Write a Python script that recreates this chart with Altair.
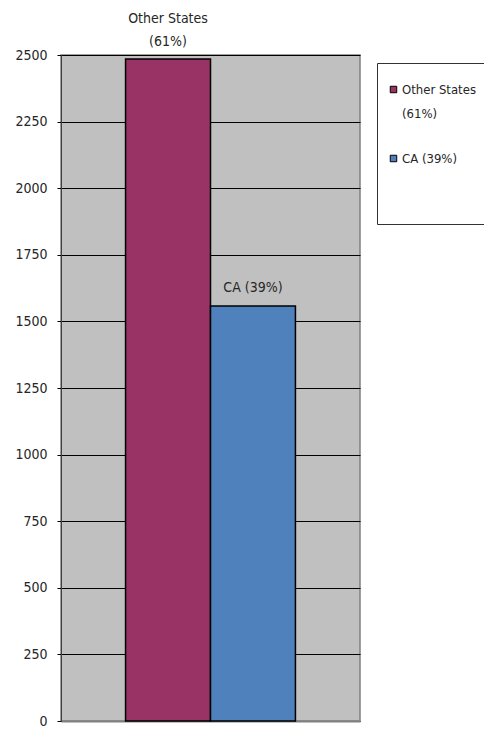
import altair as alt
import pandas as pd

categories = ["Other States", "CA"]
values = [2485, 1558]
legend_labels = ["Other States (61%)", "CA (39%)"]
bar_labels = ["Other States\n(61%)", "CA (39%)"]
colors = ["#993366", "#4F81BD"]
y_ticks = list(range(0, 2501, 250))

df = pd.DataFrame({
    "category": categories,
    "value": values,
    "legend": legend_labels,
    "label": bar_labels,
})

FONT = "DejaVu Sans Condensed, Liberation Sans, sans-serif"
TXT = "#262626"
FS = 14

x = alt.X(
    "category:N",
    sort=categories,
    scale=alt.Scale(paddingInner=0, paddingOuter=0.76),
    axis=alt.Axis(title=None, labels=False, ticks=False, domainColor="#808080", domainWidth=2),
)
y = alt.Y(
    "value:Q",
    scale=alt.Scale(domain=[0, 2500], nice=False),
    axis=alt.Axis(
        title=None,
        values=y_ticks,
        format="d",
        labelFont=FONT,
        labelFontSize=FS,
        labelColor=TXT,
        labelPadding=10,
        tickSize=4,
        tickColor="#000",
        domainColor="#404040",
        gridColor="#000",
        gridWidth=1,
        gridOpacity=1,
    ),
)

bars = alt.Chart(df).mark_bar(stroke="black", strokeWidth=1.5).encode(
    x=x,
    y=y,
    color=alt.Color(
        "legend:N",
        scale=alt.Scale(domain=legend_labels, range=colors),
        legend=alt.Legend(
            title=" ",
            titleFontSize=5,
            titlePadding=5,
            orient="none",
            legendX=316,
            legendY=8,
            padding=10,
            strokeColor="#333",
            symbolType="square",
            symbolSize=42,
            symbolStrokeColor="#000",
            symbolStrokeWidth=1,
            labelFont=FONT,
            labelFontSize=13,
            labelColor=TXT,
            labelOffset=2,
            rowPadding=31,
            labelExpr="datum.label == 'Other States (61%)' ? ['Other States', '(61%)'] : [datum.label, '', '']",
        ),
    ),
)

base_text = alt.Chart(df).encode(x=x, y=y, text="label:N")
text_two = base_text.transform_filter(alt.datum.category == "Other States").mark_text(
    font=FONT, fontSize=FS, color=TXT, baseline="bottom", dy=-33, lineBreak="\n", lineHeight=23
)
text_one = base_text.transform_filter(alt.datum.category == "CA").mark_text(
    font=FONT, fontSize=FS, color=TXT, baseline="bottom", dy=-11
)

chart = (
    alt.layer(bars, text_two, text_one)
    .properties(
        width=299,
        height=666,
        autosize=alt.AutoSizeParams(type="none"),
        padding={"left": 53, "top": 47, "right": 124, "bottom": 8},
    )
    .configure(style={"guide-label": {"lineHeight": 24}})
    .configure_view(fill="#C0C0C0", stroke="#808080", strokeWidth=1.5)
)

chart.save("out.html", embed_options={"renderer": "svg", "actions": False})
